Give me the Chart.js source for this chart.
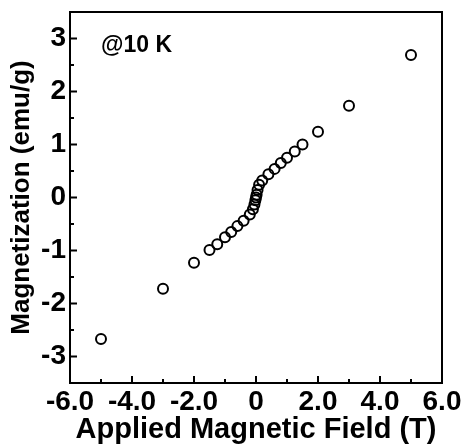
<!DOCTYPE html>
<html>
<head>
<meta charset="utf-8">
<script src="https://cdn.jsdelivr.net/npm/chart.js@4.4.0/dist/chart.umd.min.js"></script>
<style>
  html, body { margin: 0; padding: 0; background: #fff; }
  #wrap { width: 463px; height: 447px; }
</style>
</head>
<body>
<div id="wrap"><canvas id="c" width="463" height="447"></canvas></div>
<script>
// M-H data at 10 K: applied field (T) and magnetization (emu/g)
const fieldT = [-5, -3, -2, -1.5, -1.25, -1.0, -0.8, -0.6, -0.4, -0.2, -0.1, -0.05, -0.02, 0,
                0.02, 0.05, 0.1, 0.2, 0.4, 0.6, 0.8, 1.0, 1.25, 1.5, 2, 3, 5];
const magnetization = [-2.67, -1.72, -1.23, -0.99, -0.88, -0.75, -0.65, -0.54, -0.44, -0.32, -0.22, -0.13, -0.05, 0.0,
                       0.05, 0.14, 0.24, 0.32, 0.44, 0.54, 0.65, 0.75, 0.87, 1.00, 1.24, 1.73, 2.69];
const xTickValues = [-6, -4, -2, 0, 2, 4, 6];
const yTickValues = [-3, -2, -1, 0, 1, 2, 3];
const annotationText = '@10 K';

const FONT = "'Liberation Sans', Arial, sans-serif";

// Frame around the plot area plus inward-pointing tick marks
const frameTicks = {
  id: 'frameTicks',
  afterDatasetsDraw(chart) {
    const { ctx, chartArea: a, scales } = chart;
    ctx.save();
    ctx.strokeStyle = '#000';
    ctx.lineWidth = 2;
    ctx.strokeRect(a.left, a.top, a.right - a.left, a.bottom - a.top);
    ctx.beginPath();
    scales.x.ticks.forEach(t => {
      const v = t.value;
      if (v <= scales.x.min || v >= scales.x.max) return;
      const px = scales.x.getPixelForValue(v);
      const len = (v % 2 === 0) ? 7 : 4;
      ctx.moveTo(px, a.bottom);
      ctx.lineTo(px, a.bottom - len);
    });
    scales.y.ticks.forEach(t => {
      const v = t.value;
      if (v <= scales.y.min || v >= scales.y.max) return;
      const py = scales.y.getPixelForValue(v);
      const len = Number.isInteger(v) ? 7 : 4;
      ctx.moveTo(a.left, py);
      ctx.lineTo(a.left + len, py);
    });
    ctx.stroke();
    // temperature annotation
    ctx.fillStyle = '#000';
    ctx.font = "bold 23px " + FONT;
    ctx.textAlign = 'left';
    ctx.textBaseline = 'middle';
    ctx.fillText(annotationText, scales.x.getPixelForValue(-5.0), scales.y.getPixelForValue(2.87));
    ctx.restore();
  }
};

new Chart(document.getElementById('c'), {
  type: 'scatter',
  data: {
    datasets: [{
      data: fieldT.map((x, i) => ({ x, y: magnetization[i] })),
      pointStyle: 'circle',
      pointRadius: 5,
      pointHoverRadius: 5,
      borderWidth: 2,
      borderColor: '#000',
      backgroundColor: 'rgba(0,0,0,0)'
    }]
  },
  options: {
    responsive: false,
    animation: false,
    events: [],
    layout: { padding: { top: 12, right: 21, left: 0, bottom: 0 } },
    plugins: { legend: { display: false }, tooltip: { enabled: false } },
    scales: {
      x: {
        type: 'linear',
        min: -6, max: 6,
        afterFit(s) { s.height = 64; s.paddingLeft = 0; s.paddingRight = 0; },
        grid: { display: false, drawTicks: false },
        border: { display: false },
        ticks: {
          stepSize: 1,
          autoSkip: false,
          maxRotation: 0,
          padding: 2,
          color: '#000',
          font: { family: FONT, size: 28, weight: 'bold' },
          callback: v => xTickValues.includes(v) ? (v === 0 ? '0' : v.toFixed(1)) : ''
        },
        title: {
          display: true,
          text: 'Applied Magnetic Field (T)',
          color: '#000',
          padding: { top: 0, bottom: 0 },
          font: { family: FONT, size: 29, weight: 'bold' }
        }
      },
      y: {
        type: 'linear',
        min: -3.5, max: 3.5,
        afterFit(s) { s.width = 70; s.paddingTop = 0; s.paddingBottom = 0; },
        grid: { display: false, drawTicks: false },
        border: { display: false },
        ticks: {
          stepSize: 0.5,
          autoSkip: false,
          padding: 4,
          color: '#000',
          font: { family: FONT, size: 28, weight: 'bold' },
          callback: v => yTickValues.includes(v) ? String(v) : ''
        },
        title: {
          display: true,
          text: 'Magnetization (emu/g)',
          color: '#000',
          padding: { top: 6, bottom: 0 },
          font: { family: FONT, size: 26, weight: 'bold' }
        }
      }
    }
  },
  plugins: [frameTicks]
});
</script>
</body>
</html>
